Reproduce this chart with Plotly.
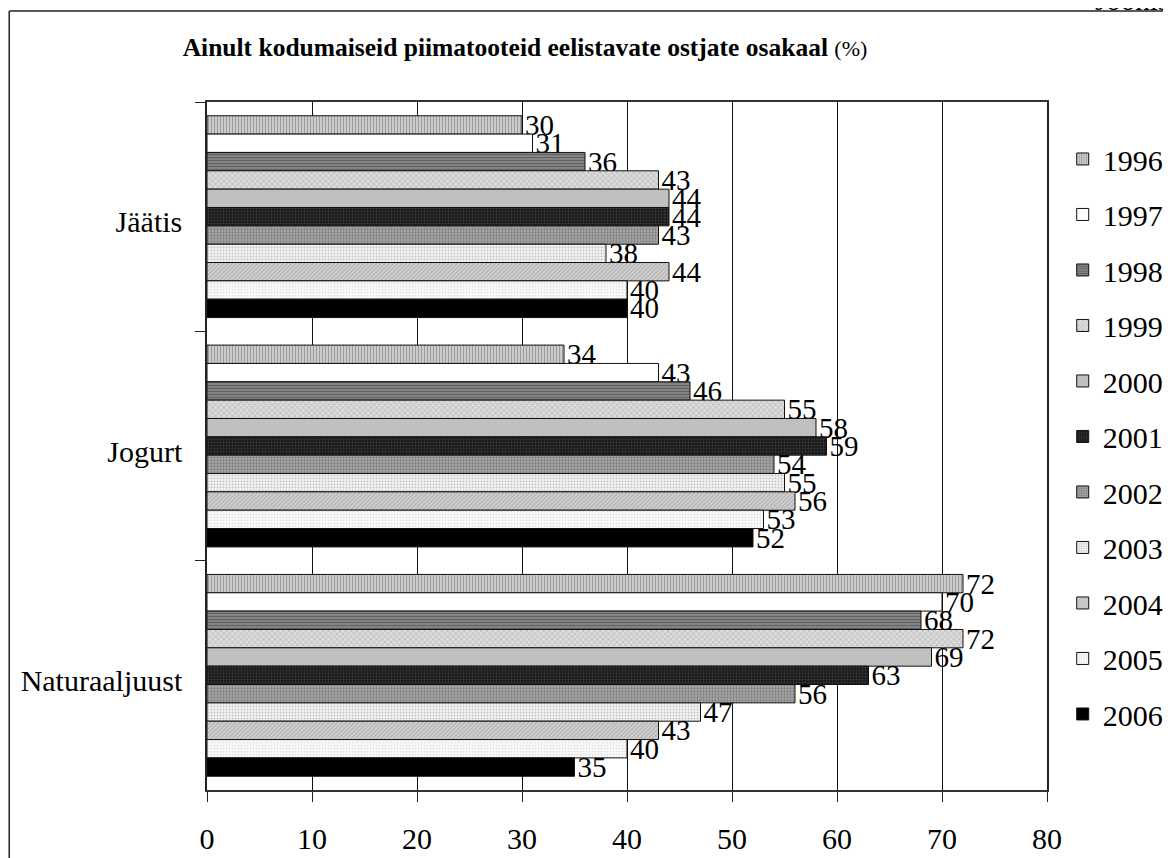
import plotly.graph_objects as go

categories = ["Jäätis", "Jogurt", "Naturaaljuust"]
years = ["1996", "1997", "1998", "1999", "2000", "2001", "2002", "2003", "2004", "2005", "2006"]
values_jaatis = [30, 31, 36, 43, 44, 44, 43, 38, 44, 40, 40]
values_jogurt = [34, 43, 46, 55, 58, 59, 54, 55, 56, 53, 52]
values_juust = [72, 70, 68, 72, 69, 63, 56, 47, 43, 40, 35]
x_ticks = [0, 10, 20, 30, 40, 50, 60, 70, 80]

# fill styles per year: (bgcolor, fgcolor, shape, size, solidity)
styles = [
    ("#d4d4d4", "#666666", "|", 3, 0.45),
    ("#ffffff", "#ffffff", "", 3, 0.1),
    ("#8a8a8a", "#3a3a3a", "-", 3, 0.45),
    ("#dcdcdc", "#8a8a8a", "x", 4, 0.3),
    ("#c0c0c0", "#c0c0c0", "", 3, 0.1),
    ("#1a1a1a", "#6a6a6a", "+", 3, 0.25),
    ("#a8a8a8", "#555555", ".", 3, 0.45),
    ("#f2f2f2", "#9a9a9a", ".", 3, 0.35),
    ("#d0d0d0", "#8a8a8a", "/", 3, 0.35),
    ("#fbfbfb", "#c8c8c8", ".", 3, 0.35),
    ("#000000", "#000000", "", 3, 0.1),
]

FONT = "Liberation Serif"

# page offset compensation (browser body margin)
OFF = 8
L, R, T, B = 207 - OFF, 1171 - 1048 + OFF, 102 - OFF, 858 - 790 + OFF
PW = 1048 - 207
PH = 790 - 102

fig = go.Figure()
for i, yr in enumerate(years):
    vals = [values_jaatis[i], values_jogurt[i], values_juust[i]]
    bg, fg, shp, sz, sol = styles[i]
    fig.add_trace(go.Bar(
        name=yr,
        legendgroup=yr,
        orientation="h",
        y=categories,
        x=vals,
        text=[str(v) for v in vals],
        textposition="outside",
        textfont=dict(family=FONT, size=29, color="black"),
        constraintext="none",
        cliponaxis=False,
        marker=dict(
            color=bg,
            line=dict(color="#111111", width=1),
            pattern=dict(shape=shp, bgcolor=bg, fgcolor=fg, size=sz, solidity=sol),
        ),
    ))

fig.update_layout(
    width=1171,
    height=858,
    barmode="group",
    bargap=0.12,
    bargroupgap=0,
    paper_bgcolor="white",
    plot_bgcolor="white",
    margin=dict(l=L, r=R, t=T, b=B),
    font=dict(family=FONT, size=29, color="black"),
    title=dict(
        text="<b>Ainult kodumaiseid piimatooteid eelistavate ostjate osakaal</b> <span style='font-size:22px'>(%)</span>",
        x=(525 - OFF) / 1171, xref="container", xanchor="center",
        y=1 - (47 - OFF) / 858, yref="container", yanchor="middle",
        font=dict(family=FONT, size=25.5, color="black"),
    ),
    legend=dict(
        x=1.0175, xanchor="left",
        y=0.955, yanchor="top",
        font=dict(family=FONT, size=30, color="black"),
        tracegroupgap=13.5,
        bgcolor="rgba(0,0,0,0)",
        itemclick=False,
    ),
    showlegend=True,
)

fig.update_xaxes(
    range=[0, 80],
    tickvals=x_ticks,
    ticks="outside",
    ticklen=10,
    tickcolor="#222222",
    showgrid=True,
    gridcolor="#111111",
    gridwidth=1,
    showline=True,
    linecolor="#333333",
    linewidth=1.5,
    mirror=True,
    zeroline=False,
    tickfont=dict(family=FONT, size=30, color="black"),
    ticklabelstandoff=11,
)
fig.update_yaxes(
    autorange="reversed",
    ticks="outside",
    tickson="boundaries",
    ticklen=10,
    tickcolor="#222222",
    showgrid=False,
    showline=True,
    linecolor="#222222",
    linewidth=1.5,
    mirror=True,
    tickfont=dict(family=FONT, size=30, color="black"),
    ticklabelstandoff=17,
    ticklabelshift=-5,
)

# outer frame (top and left edges visible in the reference)
fx = (9 - 207) / PW
fy = (790 - 11) / PH
fig.add_shape(type="line", xref="paper", yref="paper",
              x0=fx, x1=1.3, y0=fy, y1=fy,
              line=dict(color="#222222", width=1.5))
fig.add_shape(type="line", xref="paper", yref="paper",
              x0=fx, x1=fx, y0=fy, y1=-0.2,
              line=dict(color="#222222", width=1.5))

# partially visible caption at top-right
fig.add_annotation(text="Joonis", xref="paper", yref="paper",
                   x=(1172 - 207) / PW, xanchor="right",
                   y=(790 + 0) / PH, yanchor="middle",
                   showarrow=False, font=dict(family=FONT, size=29, color="black"))

fig.write_html("out.html")
